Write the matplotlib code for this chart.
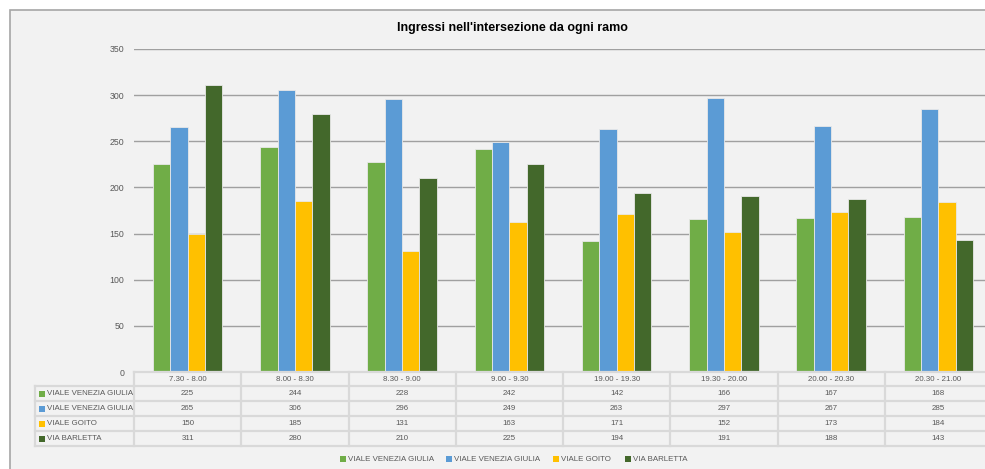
import matplotlib
matplotlib.use("Agg")
import matplotlib.pyplot as plt
from matplotlib.patches import Rectangle
from matplotlib.lines import Line2D

categories = ["7.30 - 8.00", "8.00 - 8.30", "8.30 - 9.00", "9.00 - 9.30",
              "19.00 - 19.30", "19.30 - 20.00", "20.00 - 20.30", "20.30 - 21.00"]
series_names = ["VIALE VENEZIA GIULIA", "VIALE VENEZIA GIULIA", "VIALE GOITO", "VIA BARLETTA"]
venezia_a = [225, 244, 228, 242, 142, 166, 167, 168]
venezia_b = [265, 306, 296, 249, 263, 297, 267, 285]
goito = [150, 185, 131, 163, 171, 152, 173, 184]
barletta = [311, 280, 210, 225, 194, 191, 188, 143]
series_values = [venezia_a, venezia_b, goito, barletta]
colors = ["#70AD47", "#5B9BD5", "#FFC000", "#43682B"]
title = "Ingressi nell'intersezione da ogni ramo"
yticks = [0, 50, 100, 150, 200, 250, 300, 350]

W, H = 985, 469
plt.rcParams['font.family'] = ['Liberation Sans', 'DejaVu Sans']
fig = plt.figure(figsize=(W / 100, H / 100), dpi=100)
fig.patch.set_facecolor("white")

def fx(x):
    return x / W

def fy(y):
    return 1 - y / H

# chart area background + border
fig.patches.append(Rectangle((fx(10), fy(480)), fx(1000) - fx(10), fy(10) - fy(480),
                             transform=fig.transFigure, facecolor="#F2F2F2",
                             edgecolor="#A6A6A6", linewidth=1.2, zorder=-5))

left_px, right_px, top_px, bot_px = 134, 992, 49, 372
ax = fig.add_axes([fx(left_px), fy(bot_px), fx(right_px) - fx(left_px), fy(top_px) - fy(bot_px)])
ax.set_zorder(2)
ax.set_facecolor("none")
ax.set_xlim(-0.5, len(categories) - 0.5)
ax.set_ylim(0, 350)
for s in ax.spines.values():
    s.set_visible(False)
ax.set_xticks([])
ax.set_yticks(yticks)
ax.tick_params(axis='y', length=0, pad=7, labelsize=6.3, labelcolor="#595959")
ax.yaxis.grid(True, color="#A0A0A0", linewidth=1.0)
ax.set_axisbelow(True)

bw = 0.162
n = len(series_values)
for i, (vals, c) in enumerate(zip(series_values, colors)):
    xs = [k + (i - (n - 1) / 2) * bw for k in range(len(categories))]
    ax.bar(xs, vals, width=bw, color=c, edgecolor="#E8E8E8", linewidth=0.6, zorder=3)

fig.text(fx(512), fy(28), title, ha="center", va="center", fontsize=9, fontweight="bold", color="#000000")

# data table
cat_w = (right_px - left_px) / len(categories)
row_lines = [386, 401, 416, 431, 446]
tcol = "#D9D9D9"
lw = 1.6
tfs = 5.7
txtc = "#595959"
fig.lines.append(Line2D([fx(left_px), fx(1000)], [fy(372), fy(372)], transform=fig.transFigure, color=tcol, lw=lw))
for y in row_lines:
    fig.lines.append(Line2D([fx(35), fx(1000)], [fy(y), fy(y)], transform=fig.transFigure, color=tcol, lw=lw))
fig.lines.append(Line2D([fx(35), fx(35)], [fy(386), fy(446)], transform=fig.transFigure, color=tcol, lw=lw))
for k in range(len(categories) + 1):
    x = left_px + k * cat_w
    fig.lines.append(Line2D([fx(x), fx(x)], [fy(372), fy(446)], transform=fig.transFigure, color=tcol, lw=lw))
for k, cat in enumerate(categories):
    xc = left_px + (k + 0.5) * cat_w
    fig.text(fx(xc), fy(379), cat, ha="center", va="center", fontsize=tfs, color=txtc)
for r, (name, vals, c) in enumerate(zip(series_names, series_values, colors)):
    yc = (row_lines[r] + row_lines[r + 1]) / 2
    fig.patches.append(Rectangle((fx(39), fy(yc + 3)), fx(6), fy(0) - fy(6),
                                 transform=fig.transFigure, facecolor=c, edgecolor="none"))
    fig.text(fx(47), fy(yc), name, ha="left", va="center", fontsize=tfs, color=txtc)
    for k, v in enumerate(vals):
        xc = left_px + (k + 0.5) * cat_w
        fig.text(fx(xc), fy(yc), str(v), ha="center", va="center", fontsize=tfs, color=txtc)

# legend
leg_x = [340, 446, 553, 625]
for name, c, x in zip(series_names, colors, leg_x):
    fig.patches.append(Rectangle((fx(x), fy(462)), fx(6), fy(0) - fy(6),
                                 transform=fig.transFigure, facecolor=c, edgecolor="none"))
    fig.text(fx(x + 8), fy(459), name, ha="left", va="center", fontsize=tfs, color=txtc)

fig.savefig("out.png", dpi=100, facecolor="white")
